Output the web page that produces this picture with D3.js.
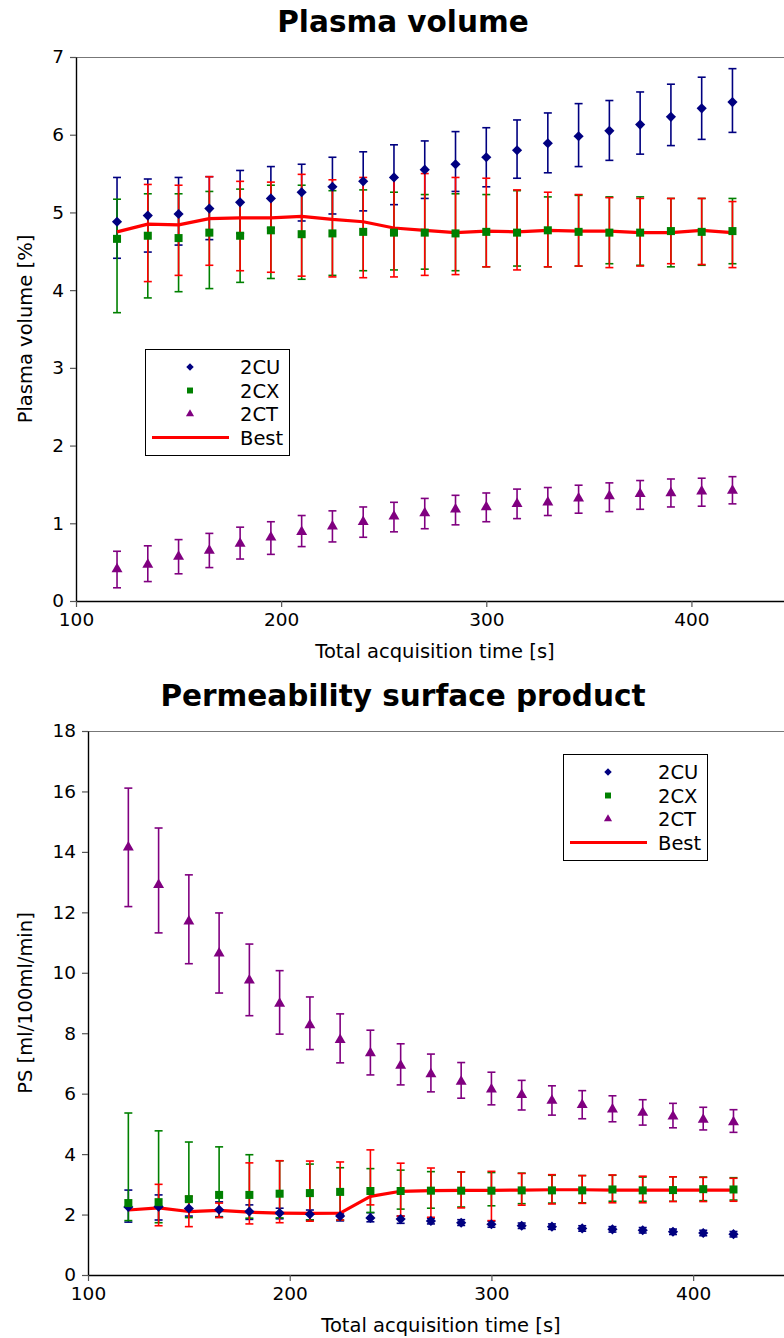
<!DOCTYPE html>
<html>
<head>
<meta charset="utf-8">
<script src="https://cdn.jsdelivr.net/npm/d3@7"></script>
<style>
  body { margin: 0; background: #fff; }
  svg { display: block; font-family: 'DejaVu Sans', sans-serif; }
</style>
</head>
<body>
<div class="chart"></div>
<script>
// acquisition times [s]
const times = [120, 135, 150, 165, 180, 195, 210, 225, 240, 255, 270, 285, 300, 315, 330, 345, 360, 375, 390, 405, 420];
const seriesNames = ['2CU', '2CX', '2CT', 'Best'];
const xTicks = [100, 200, 300, 400];

// Plasma volume [%]
const pvCU = [4.88, 4.96, 4.98, 5.05, 5.13, 5.18, 5.26, 5.33, 5.40, 5.45, 5.55, 5.62, 5.71, 5.80, 5.89, 5.98, 6.05, 6.13, 6.23, 6.34, 6.42];
const pvCUHi = [5.45, 5.43, 5.45, 5.46, 5.54, 5.59, 5.62, 5.71, 5.78, 5.87, 5.92, 6.04, 6.09, 6.19, 6.28, 6.40, 6.44, 6.55, 6.65, 6.74, 6.85];
const pvCULo = [4.41, 4.49, 4.58, 4.65, 4.73, 4.80, 4.89, 4.98, 5.02, 5.10, 5.18, 5.27, 5.33, 5.44, 5.51, 5.59, 5.67, 5.75, 5.86, 5.94, 6.03];
const pvCX = [4.66, 4.70, 4.67, 4.74, 4.70, 4.77, 4.72, 4.73, 4.75, 4.74, 4.74, 4.73, 4.75, 4.74, 4.77, 4.75, 4.74, 4.74, 4.76, 4.75, 4.76];
const pvCXHi = [5.17, 5.24, 5.24, 5.27, 5.30, 5.35, 5.35, 5.28, 5.29, 5.26, 5.23, 5.24, 5.23, 5.28, 5.20, 5.22, 5.20, 5.20, 5.18, 5.18, 5.18];
const pvCXLo = [3.71, 3.90, 3.98, 4.02, 4.10, 4.15, 4.14, 4.19, 4.25, 4.26, 4.27, 4.25, 4.30, 4.31, 4.30, 4.31, 4.34, 4.32, 4.30, 4.32, 4.34];
const pvCT = [0.41, 0.47, 0.57, 0.65, 0.74, 0.82, 0.89, 0.96, 1.02, 1.09, 1.13, 1.18, 1.21, 1.25, 1.27, 1.32, 1.35, 1.38, 1.39, 1.41, 1.42];
const pvCTHi = [0.64, 0.71, 0.79, 0.87, 0.95, 1.02, 1.10, 1.16, 1.21, 1.27, 1.32, 1.36, 1.39, 1.44, 1.46, 1.49, 1.52, 1.55, 1.57, 1.58, 1.60];
const pvCTLo = [0.17, 0.25, 0.35, 0.43, 0.54, 0.60, 0.70, 0.76, 0.82, 0.89, 0.93, 0.98, 1.02, 1.06, 1.10, 1.13, 1.15, 1.18, 1.21, 1.22, 1.25];
const pvBest = [4.75, 4.85, 4.84, 4.92, 4.93, 4.93, 4.95, 4.91, 4.88, 4.80, 4.77, 4.74, 4.76, 4.75, 4.77, 4.76, 4.76, 4.74, 4.74, 4.77, 4.74];
const pvBestHi = [null, 5.36, 5.35, 5.46, 5.40, 5.39, 5.49, 5.42, 5.45, 5.45, 5.50, 5.45, 5.44, 5.29, 5.26, 5.23, 5.19, 5.18, 5.18, 5.18, 5.14];
const pvBestLo = [null, 4.11, 4.19, 4.32, 4.25, 4.23, 4.18, 4.17, 4.16, 4.17, 4.19, 4.20, 4.30, 4.26, 4.30, 4.31, 4.29, 4.31, 4.34, 4.33, 4.29];
const pvTicks = [0, 1, 2, 3, 4, 5, 6, 7];

// Permeability surface product [ml/100ml/min]
const psCU = [2.25, 2.26, 2.20, 2.16, 2.10, 2.05, 2.01, 1.95, 1.89, 1.85, 1.79, 1.73, 1.68, 1.63, 1.60, 1.54, 1.51, 1.48, 1.43, 1.39, 1.35];
const psCUHi = [2.81, 2.65, 2.45, 2.42, 2.32, 2.21, 2.15, 2.02, 2.06, 1.95, 1.88, 1.83, 1.78, 1.72, 1.69, 1.63, 1.60, 1.57, 1.52, 1.48, 1.44];
const psCULo = [1.75, 1.82, 1.95, 1.93, 1.84, 1.86, 1.82, 1.79, 1.76, 1.71, 1.69, 1.64, 1.58, 1.54, 1.51, 1.45, 1.42, 1.39, 1.34, 1.30, 1.26];
const psCX = [2.38, 2.41, 2.51, 2.65, 2.65, 2.69, 2.71, 2.75, 2.78, 2.78, 2.79, 2.79, 2.79, 2.80, 2.80, 2.80, 2.83, 2.80, 2.81, 2.84, 2.83];
const psCXHi = [5.36, 4.77, 4.40, 4.24, 3.98, 3.78, 3.67, 3.55, 3.52, 3.47, 3.42, 3.41, 3.39, 3.37, 3.30, 3.29, 3.30, 3.24, 3.25, 3.24, 3.22];
const psCXLo = [1.80, 1.73, 1.90, 1.91, 1.88, 1.89, 1.82, 1.82, 2.07, 2.18, 2.21, 2.25, 2.29, 2.36, 2.38, 2.39, 2.44, 2.44, 2.44, 2.46, 2.48];
const psCT = [14.15, 12.91, 11.70, 10.64, 9.75, 8.98, 8.27, 7.78, 7.34, 6.93, 6.65, 6.40, 6.14, 5.96, 5.77, 5.63, 5.48, 5.37, 5.25, 5.14, 5.06];
const psCTHi = [16.11, 14.79, 13.24, 11.98, 10.95, 10.07, 9.20, 8.64, 8.10, 7.65, 7.31, 7.03, 6.71, 6.44, 6.26, 6.10, 5.93, 5.80, 5.68, 5.55, 5.47];
const psCTLo = [12.19, 11.32, 10.30, 9.33, 8.58, 7.97, 7.46, 7.02, 6.62, 6.29, 6.06, 5.85, 5.63, 5.46, 5.29, 5.17, 5.07, 4.96, 4.87, 4.80, 4.72];
const psBest = [2.15, 2.22, 2.10, 2.14, 2.08, 2.05, 2.04, 2.05, 2.60, 2.77, 2.79, 2.80, 2.80, 2.81, 2.82, 2.82, 2.81, 2.81, 2.81, 2.81, 2.81];
const psBestHi = [null, 3.00, 2.60, 2.38, 3.71, 3.78, 3.77, 3.74, 4.14, 3.70, 3.54, 3.41, 3.43, 3.36, 3.32, 3.29, 3.31, 3.27, 3.25, 3.23, 3.20];
const psBestLo = [null, 1.63, 1.60, 1.90, 1.69, 1.73, 1.78, 1.82, 2.32, 1.95, 1.91, 2.22, 1.80, 2.31, 2.35, 2.37, 2.39, 2.39, 2.43, 2.43, 2.44];
const psTicks = [0, 2, 4, 6, 8, 10, 12, 14, 16, 18];

const colors = { '2CU': '#000080', '2CX': '#008000', '2CT': '#800080', 'Best': '#ff0000' };
const shapes = { '2CU': d3.symbolDiamond2, '2CX': d3.symbolSquare2, '2CT': d3.symbolTriangle2 };
const markerSize = { '2CU': 66, '2CX': 82, '2CT': 86 };

const svg = d3.select('.chart').append('svg')
  .attr('width', 784)
  .attr('height', 1338);

function series(name, val, lo, hi) {
  return { name, points: times.map((t, i) => ({ t, v: val[i], lo: lo[i], hi: hi[i] })) };
}

function drawPanel(cfg) {
  const g = svg.append('g');
  const x = d3.scaleLinear().domain([100, 450]).range([cfg.left, cfg.right]);
  const y = d3.scaleLinear().domain(cfg.yDomain).range([cfg.bottom, cfg.top]);

  // frame: top border in grey, left/bottom spines black
  g.append('line')
    .attr('x1', cfg.left).attr('x2', 784)
    .attr('y1', cfg.top + 0.5).attr('y2', cfg.top + 0.5)
    .attr('stroke', '#777').attr('stroke-width', 1.2);

  const yAxis = g.append('g')
    .attr('transform', `translate(${cfg.left},0)`)
    .call(d3.axisLeft(y).tickValues(cfg.yTicks).tickFormat(d3.format('d'))
      .tickSize(6).tickSizeOuter(0).tickPadding(6));
  const xAxis = g.append('g')
    .attr('transform', `translate(0,${cfg.bottom})`)
    .call(d3.axisBottom(x).tickValues(xTicks).tickSize(6).tickSizeOuter(0).tickPadding(6));

  [xAxis, yAxis].forEach(a => {
    a.select('.domain').attr('stroke', '#000').attr('stroke-width', 1.4);
    a.selectAll('.tick line').attr('stroke', '#555').attr('stroke-width', 1.2);
    a.selectAll('.tick text')
      .attr('font-family', 'DejaVu Sans')
      .attr('font-size', 18.5)
      .attr('fill', '#000');
  });

  // titles and labels
  g.append('text')
    .attr('x', 403).attr('y', cfg.titleY)
    .attr('text-anchor', 'middle')
    .attr('font-size', 29.5).attr('font-weight', 'bold')
    .text(cfg.title);

  g.append('text')
    .attr('x', (cfg.left + cfg.right) / 2).attr('y', cfg.bottom + 57)
    .attr('text-anchor', 'middle')
    .attr('font-size', 19.5)
    .text('Total acquisition time [s]');

  g.append('text')
    .attr('transform', `translate(32,${(cfg.top + cfg.bottom) / 2}) rotate(-90)`)
    .attr('text-anchor', 'middle')
    .attr('font-size', 19.5)
    .text(cfg.yLabel);

  // error bars
  const capW = 4;
  cfg.series.forEach(s => {
    const eb = g.append('g')
      .attr('stroke', colors[s.name])
      .attr('stroke-width', 1.6)
      .selectAll('g')
      .data(s.points.filter(p => p.lo != null))
      .enter().append('g');
    eb.append('line')
      .attr('x1', d => x(d.t)).attr('x2', d => x(d.t))
      .attr('y1', d => y(d.lo)).attr('y2', d => y(d.hi));
    eb.append('line')
      .attr('x1', d => x(d.t) - capW).attr('x2', d => x(d.t) + capW)
      .attr('y1', d => y(d.lo)).attr('y2', d => y(d.lo));
    eb.append('line')
      .attr('x1', d => x(d.t) - capW).attr('x2', d => x(d.t) + capW)
      .attr('y1', d => y(d.hi)).attr('y2', d => y(d.hi));
  });

  // best fit line
  const best = cfg.series.find(s => s.name === 'Best');
  g.append('path')
    .datum(best.points)
    .attr('fill', 'none')
    .attr('stroke', colors.Best)
    .attr('stroke-width', 3.2)
    .attr('stroke-linejoin', 'round')
    .attr('d', d3.line().x(d => x(d.t)).y(d => y(d.v)));

  // markers
  cfg.series.filter(s => shapes[s.name]).forEach(s => {
    g.append('g')
      .selectAll('path')
      .data(s.points)
      .enter().append('path')
      .attr('transform', d => `translate(${x(d.t)},${y(d.v)})`)
      .attr('d', d3.symbol().type(shapes[s.name]).size(markerSize[s.name]))
      .attr('fill', colors[s.name]);
  });

  // legend
  const lg = g.append('g').attr('transform', `translate(${cfg.legend[0]},${cfg.legend[1]})`);
  lg.append('rect')
    .attr('x', 0.5).attr('y', 0.5)
    .attr('width', 144).attr('height', 106)
    .attr('fill', '#fff').attr('stroke', '#000').attr('stroke-width', 1);
  seriesNames.forEach((name, i) => {
    const cy = 18 + i * 23.5;
    if (shapes[name]) {
      lg.append('path')
        .attr('transform', `translate(45,${cy})`)
        .attr('d', d3.symbol().type(shapes[name]).size(markerSize[name] * 0.55))
        .attr('fill', colors[name]);
    } else {
      lg.append('line')
        .attr('x1', 7).attr('x2', 84)
        .attr('y1', cy).attr('y2', cy)
        .attr('stroke', colors[name]).attr('stroke-width', 3.2);
    }
    lg.append('text')
      .attr('x', 95).attr('y', cy + 7)
      .attr('font-size', 19.5)
      .text(name);
  });
}

drawPanel({
  title: 'Plasma volume', titleY: 32,
  yLabel: 'Plasma volume [%]',
  left: 76, right: 794, top: 57, bottom: 601,
  yDomain: [0, 7], yTicks: pvTicks,
  legend: [145, 349],
  series: [
    series('2CU', pvCU, pvCULo, pvCUHi),
    series('2CX', pvCX, pvCXLo, pvCXHi),
    series('2CT', pvCT, pvCTLo, pvCTHi),
    series('Best', pvBest, pvBestLo, pvBestHi)
  ]
});

drawPanel({
  title: 'Permeability surface product', titleY: 706,
  yLabel: 'PS [ml/100ml/min]',
  left: 88, right: 794, top: 731, bottom: 1275,
  yDomain: [0, 18], yTicks: psTicks,
  legend: [563, 754],
  series: [
    series('2CU', psCU, psCULo, psCUHi),
    series('2CX', psCX, psCXLo, psCXHi),
    series('2CT', psCT, psCTLo, psCTHi),
    series('Best', psBest, psBestLo, psBestHi)
  ]
});
</script>
</body>
</html>
